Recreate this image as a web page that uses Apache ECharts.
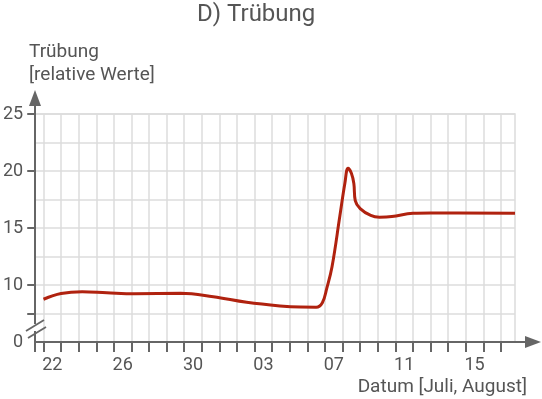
<!DOCTYPE html>
<html>
<head>
<meta charset="utf-8">
<script src="https://cdn.jsdelivr.net/npm/echarts@6/dist/echarts.min.js"></script>
<style>
  html, body { margin: 0; padding: 0; background: #fff; }
  #chart { width: 542px; height: 399px; }
</style>
</head>
<body>
<div id="chart"></div>
<script>
// day index 0 = 22. Juli
const dayTicks = [-0.47, 0, 1, 2, 3, 4, 5, 6, 7, 8, 9, 10, 11, 12, 13, 14, 15, 16, 17, 18, 19, 20, 21, 22, 23, 24, 25, 26];
const labelPos = [0.5, 4.5, 8.5, 12.5, 16.5, 20.5, 24.5];
const labelText = ['22', '26', '30', '03', '07', '11', '15'];
const yTicks = [7.5, 10, 15, 20, 25];
const yLabels = [5, 10, 15, 20, 25];

// Trübung
const days = [0, 1.0, 2.2, 3.6, 5.2, 7.8, 9.65, 11.55, 13.44, 14.6, 15.5,
  15.85, 16.1, 16.4, 16.84, 17.13, 17.31, 17.5, 17.64, 17.72, 18.0, 18.6, 19.1, 19.8, 21.0, 22.0, 26.8];
const turbidity = [8.75, 9.25, 9.41, 9.32, 9.24, 9.27, 8.97, 8.48, 8.16, 8.06, 8.05,
  8.45, 9.7, 11.6, 16.0, 18.92, 20.24, 19.8, 18.9, 17.4, 16.7, 16.1, 15.95, 16.0, 16.29, 16.32, 16.3];

const chart = echarts.init(document.getElementById('chart'));
const axisCol = '#666';
const gridCol = '#dcdcdc';
const txtCol = '#555';

const option = {
  animation: false,
  textStyle: { fontFamily: 'Roboto' },
  title: [
    { text: 'D) Trübung', left: 197, top: 3, padding: 0, textStyle: { fontSize: 24, fontWeight: 'normal', color: txtCol, fontFamily: 'Roboto' } },
    { text: 'Trübung\n[relative Werte]', left: 29, top: 41, padding: 0, textStyle: { fontSize: 19, lineHeight: 23, fontWeight: 'normal', color: txtCol, fontFamily: 'Roboto' } },
    { text: 'Datum [Juli, August]', right: 15, top: 378, padding: 0, textStyle: { fontSize: 19, fontWeight: 'normal', color: txtCol, fontFamily: 'Roboto' } }
  ],
  grid: [
    { left: 35, right: 27, top: 114, bottom: 57, show: true, borderColor: gridCol, borderWidth: 1.5, containLabel: false },
    { left: 35, right: 9, top: 98, bottom: 57, containLabel: false }
  ],
  xAxis: [
    {
      type: 'value', gridIndex: 0, min: -0.47, max: 26.8, position: 'bottom',
      axisLine: { show: false, onZero: false },
      axisTick: { show: true, customValues: dayTicks, length: 10, lineStyle: { color: axisCol, width: 2 } },
      splitLine: { show: true, lineStyle: { color: gridCol, width: 1.5 } },
      axisLabel: {
        customValues: labelPos, margin: 14, color: txtCol, fontSize: 18, fontFamily: 'Roboto',
        formatter: function (v) {
          const i = labelPos.indexOf(v);
          return i >= 0 ? labelText[i] : '';
        }
      }
    },
    {
      type: 'value', gridIndex: 1, min: 0, max: 1,
      axisLine: { show: true, onZero: false, symbol: ['none', 'triangle'], symbolSize: [12, 16], lineStyle: { color: axisCol, width: 2 } },
      axisTick: { show: false }, axisLabel: { show: false }, splitLine: { show: false }
    }
  ],
  yAxis: [
    {
      type: 'value', gridIndex: 0, min: 5, max: 25, interval: 2.5, position: 'left',
      axisLine: { show: false, onZero: false },
      axisTick: { show: false },
      splitLine: { show: true, lineStyle: { color: gridCol, width: 1.5 } },
      axisLabel: {
        customValues: yLabels, margin: 12, color: txtCol, fontSize: 18, fontFamily: 'Roboto',
        formatter: function (v) { return v === 5 ? '0' : String(v); }
      }
    },
    {
      type: 'value', gridIndex: 0, min: 5, max: 25, position: 'left',
      axisLine: { show: false, onZero: false },
      axisTick: { show: true, customValues: yTicks, length: 8, lineStyle: { color: axisCol, width: 2 } },
      splitLine: { show: false }, axisLabel: { show: false }
    },
    {
      type: 'value', gridIndex: 1, min: 0, max: 1, position: 'left',
      axisLine: { show: true, onZero: false, symbol: ['none', 'triangle'], symbolSize: [12, 16], lineStyle: { color: axisCol, width: 2 } },
      axisTick: { show: false }, axisLabel: { show: false }, splitLine: { show: false }
    }
  ],
  series: [
    {
      type: 'line', xAxisIndex: 0, yAxisIndex: 0,
      data: days.map((d, i) => [d, turbidity[i]]),
      smooth: 0.4, showSymbol: false,
      lineStyle: { color: '#b0220f', width: 3 }, z: 5
    }
  ],
  graphic: [
    { type: 'rect', z: 100, shape: { x: 32, y: 324, width: 6, height: 7 }, style: { fill: '#fff' } },
    { type: 'line', z: 101, shape: { x1: 26, y1: 331, x2: 44, y2: 320 }, style: { stroke: axisCol, lineWidth: 1.8 } },
    { type: 'line', z: 101, shape: { x1: 28, y1: 338, x2: 46, y2: 327 }, style: { stroke: axisCol, lineWidth: 1.8 } }
  ]
};

chart.setOption(option);
</script>
</body>
</html>
